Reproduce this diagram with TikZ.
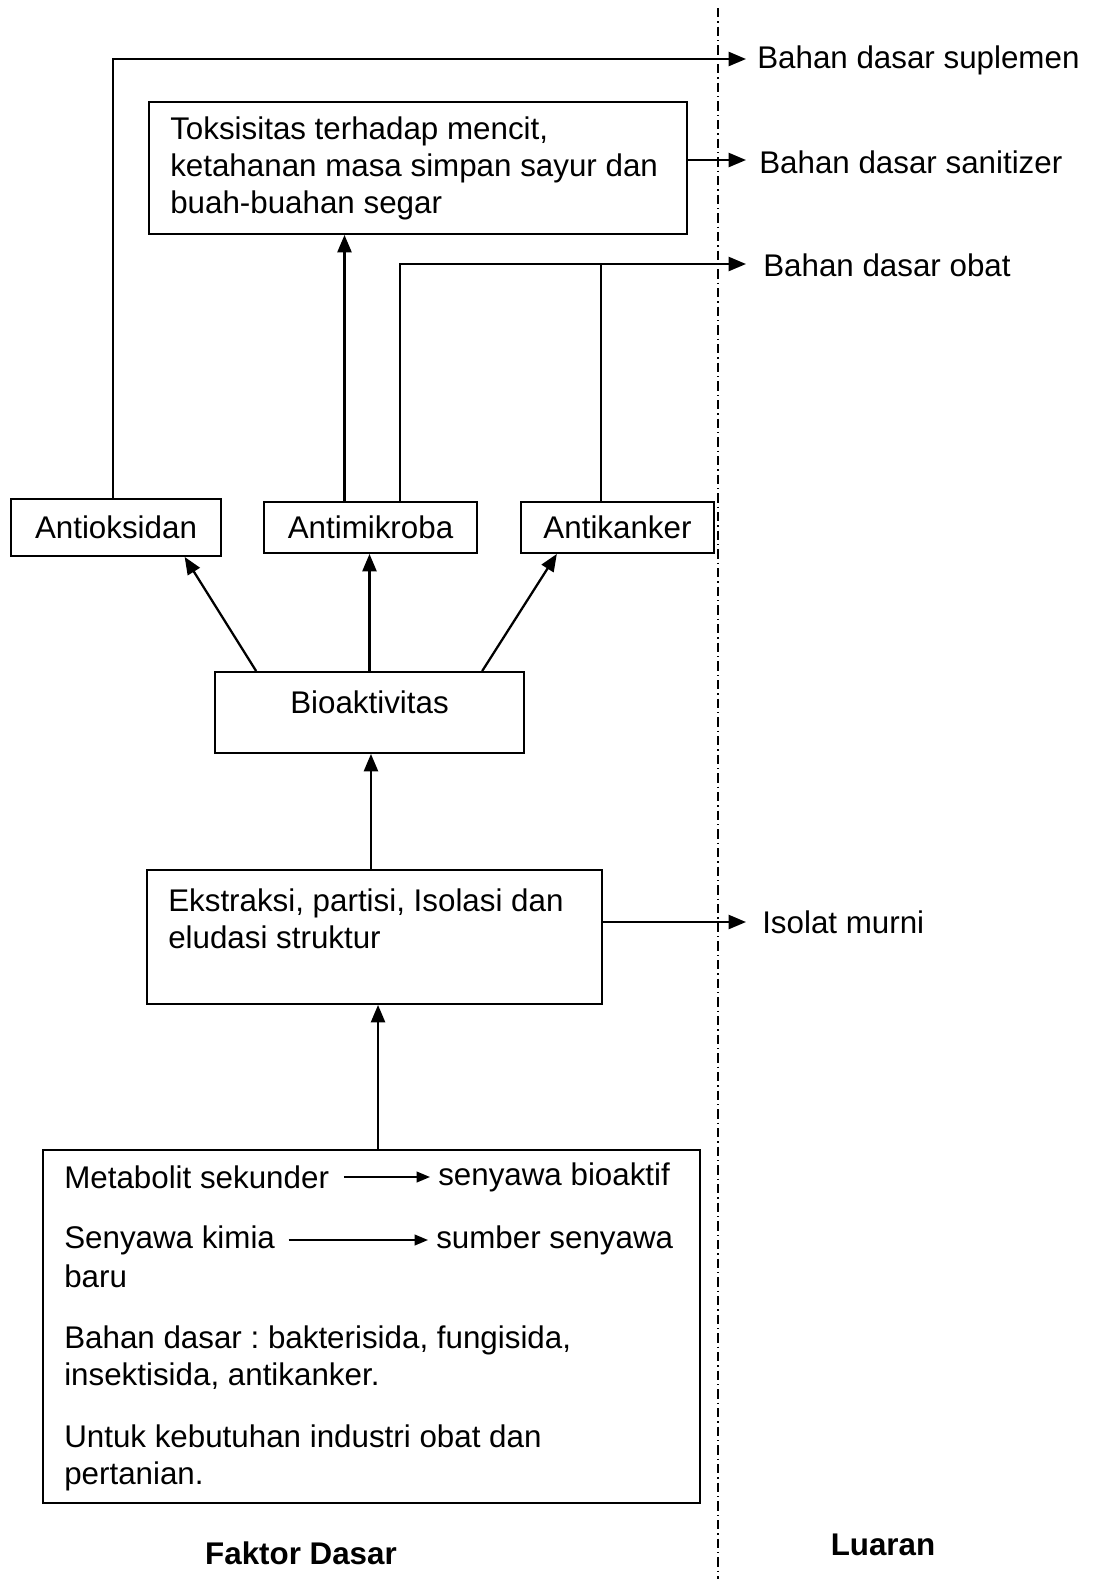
\documentclass[tikz,border=0pt]{standalone}
\usepackage{fontspec}
\setmainfont{Liberation Sans}
\usetikzlibrary{arrows.meta}
\frenchspacing
\begin{document}
\begin{tikzpicture}[x=0.75pt,y=-0.75pt,
 every node/.style={font=\fontsize{23.5}{27.75}\selectfont},
 box/.style={draw, line width=1.4pt, inner sep=0pt},
 txt/.style={inner sep=0pt, anchor=west, align=left},
 arr/.style={line width=1.7pt, -{Triangle[length=13pt,width=10.5pt]}},
 sarr/.style={line width=1.4pt, -{Triangle[length=10pt,width=8pt]}},
 ln/.style={line width=1.7pt},
 divider/.style={line width=1pt, dash pattern=on 7pt off 3pt on 1pt off 3pt},
 head/.style={font=\fontsize{23.5}{27.75}\selectfont\bfseries, inner sep=0pt}]
\useasboundingbox (0,0) rectangle (1099,1579);

% divider
\draw[divider] (718,8) -- (718,1579);

% boxes
\node[box, minimum width=538*0.75pt, minimum height=132*0.75pt] (tox) at (418,168) {};
\node[txt] (toxt) at (170,168) {Toksisitas terhadap mencit,\\ketahanan masa simpan sayur dan\\buah-buahan segar};

\node[box, minimum width=210*0.75pt, minimum height=57*0.75pt] (antiok) at (116,527.5) {Antioksidan};
\node[box, minimum width=213*0.75pt, minimum height=51*0.75pt] (antimik) at (370.5,527.5) {Antimikroba};
\node[box, minimum width=193*0.75pt, minimum height=51*0.75pt] (antikank) at (617.5,527.5) {Antikanker};

\node[box, minimum width=309*0.75pt, minimum height=81*0.75pt] (bio) at (369.5,712.5) {};
\node[inner sep=0pt] (biot) at (369.5,702) {Bioaktivitas};

\node[box, minimum width=455*0.75pt, minimum height=134*0.75pt] (ekstr) at (374.5,937) {};
\node[txt] (ekstrt) at (168,918.5) {Ekstraksi, partisi, Isolasi dan\\eludasi struktur};

\node[box, minimum width=657*0.75pt, minimum height=353*0.75pt] (bottom) at (371.5,1326.5) {};
\node[txt] (ms) at (64,1177) {Metabolit sekunder};
\node[txt] (sb) at (438,1177) {senyawa bioaktif};
\node[txt] (sk) at (64,1240) {Senyawa kimia};
\node[txt] (ss) at (436,1240) {sumber senyawa};
\node[txt] (baru) at (64,1276) {baru};
\node[txt] (bd) at (64,1358) {Bahan dasar : bakterisida, fungisida,\\insektisida, antikanker.};
\node[txt] (uk) at (64,1458) {Untuk kebutuhan industri obat dan\\pertanian.};

% outputs
\coordinate (e1) at (746,59);
\coordinate (e2) at (746,160);
\coordinate (e3) at (746,264);
\coordinate (e4) at (746,922);
\node[txt] (sup) at (757,60) {Bahan dasar suplemen};
\node[txt] (san) at (759,162) {Bahan dasar sanitizer};
\node[txt] (obat) at (763,265) {Bahan dasar obat};
\node[txt] (iso) at (762,922) {Isolat murni};

\node[head] (fd) at (301,1553) {Faktor Dasar};
\node[head] (lu) at (883,1545) {Luaran};

% connectors
\draw[arr] ([xshift=-2.25pt]antiok.north) |- (e1);
\draw[arr] (tox.east |- e2) -- (e2);
\coordinate (m1) at ([xshift=-19.5pt]antimik.north);
\draw[arr] (m1) -- (m1 |- tox.south);
\coordinate (m2) at ([xshift=22.1pt]antimik.north);
\draw[arr] (m2) |- (e3);
\coordinate (k1) at ([xshift=-12.4pt]antikank.north);
\draw[ln] (k1) -- (k1 |- e3);

\draw[arr] ([xshift=-85pt]bio.north) -- ([xshift=51.5pt]antiok.south);
\draw[arr] (bio.north) -- (bio.north |- antimik.south);
\draw[arr] ([xshift=84.5pt]bio.north) -- ([xshift=-45.5pt]antikank.south);

\coordinate (c1) at ([xshift=1.1pt]bio.south);
\draw[arr] (c1 |- ekstr.north) -- (c1);
\draw[arr] (ekstr.east |- e4) -- (e4);
\coordinate (c2) at ([xshift=4.9pt]bottom.north);
\draw[arr] (c2) -- (c2 |- ekstr.south);

\draw[sarr, shorten <=11pt, shorten >=6pt] (ms.east) -- (sb.west);
\draw[sarr, shorten <=10pt, shorten >=6pt] (sk.east) -- (ss.west);
\end{tikzpicture}
\end{document}
